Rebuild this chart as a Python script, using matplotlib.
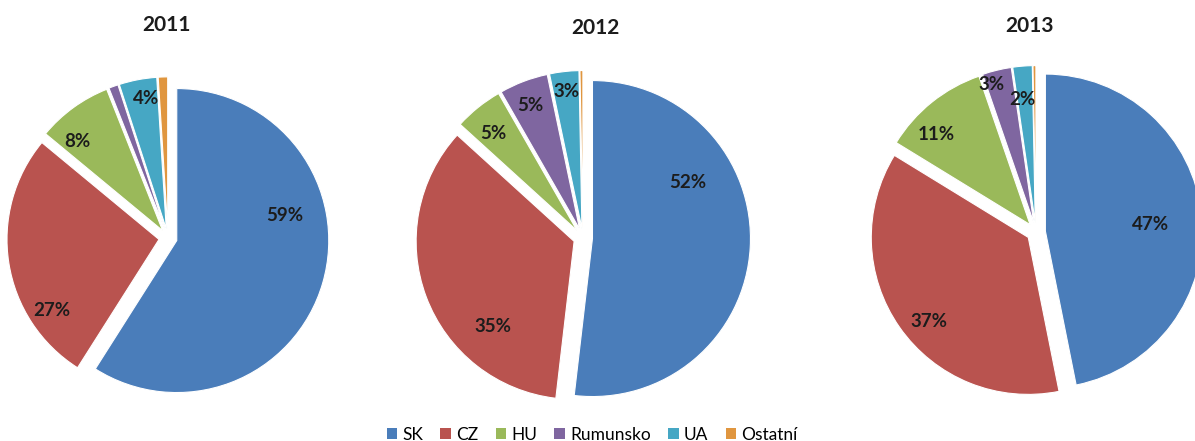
import numpy as np
import matplotlib
matplotlib.use("Agg")
import matplotlib.pyplot as plt
from matplotlib.patches import Patch

# ---- data ----
categories = ["SK", "CZ", "HU", "Rumunsko", "UA", "Ostatní"]
years = ["2011", "2012", "2013"]
values_2011 = [59, 27, 8, 1, 4, 1]
values_2012 = [52, 35, 5, 5, 3, 0.3]
values_2013 = [47, 37, 11, 3, 2, 0.3]
all_values = [values_2011, values_2012, values_2013]

# ---- style ----
colors = ["#4A7DBA", "#B9534F", "#9AB95A", "#7F66A0", "#46A7C4", "#E0963F"]
W, H = 1195, 441
DPI = 100
# pie layout in pixels: center x, center y, radius
pie_layout = [(168, 238, 152), (583, 238, 158), (1036, 232, 157)]
title_pos = [(166, 25), (595, 28), (1030, 26)]
# label placement: angle shift (deg) from slice middle and radial distance (fraction of r)
label_shift = [
    [27, 23, 7, 0, -2, 0],
    [31, 24, 2, 1, 0, 0],
    [-2, 5, 7, 3, 1, 0],
]
label_dist = [
    [0.78, 0.90, 0.87, 0.9, 0.93, 0.9],
    [0.75, 0.80, 0.87, 0.90, 0.93, 0.9],
    [0.73, 0.89, 0.89, 0.98, 0.85, 0.9],
]
explode_frac = 0.06
FONT = ["Lato", "DejaVu Sans"]
plt.rcParams["font.family"] = FONT

fig = plt.figure(figsize=(W / DPI, H / DPI), dpi=DPI)
fig.patch.set_facecolor("white")

half = 1.3
for i, vals in enumerate(all_values):
    cx, cy, r = pie_layout[i]
    hp = half * r
    ax = fig.add_axes([(cx - hp) / W, 1 - (cy + hp) / H, 2 * hp / W, 2 * hp / H])
    wedges, _ = ax.pie(vals, colors=colors, startangle=90, counterclock=False,
                       explode=[explode_frac] * len(vals), radius=1,
                       wedgeprops=dict(edgecolor="white", linewidth=0.8))
    ax.set_xlim(-half, half)
    ax.set_ylim(-half, half)
    ax.axis("off")
    total = sum(vals)
    for j, w in enumerate(wedges):
        pct = vals[j] / total * 100
        if pct < 1.5:
            continue
        mid = (w.theta1 + w.theta2) / 2 + label_shift[i][j]
        d = label_dist[i][j]
        x = d * np.cos(np.radians(mid))
        y = d * np.sin(np.radians(mid))
        ax.text(x, y, f"{pct:.0f}%", ha="center", va="center",
                fontsize=13.5, fontweight="bold", color="#1c1c1c")
    tx, ty = title_pos[i]
    fig.text(tx / W, 1 - ty / H, years[i], ha="center", va="center",
             fontsize=15, fontweight="bold", color="#1c1c1c")

handles = [Patch(facecolor=c, edgecolor="none") for c in colors]
fig.legend(handles, categories, loc="center", bbox_to_anchor=(592 / W, 1 - 435 / H),
           ncol=6, frameon=False, fontsize=12.5, handlelength=0.6, handleheight=0.6,
           handletextpad=0.3, columnspacing=1.0, borderaxespad=0, borderpad=0)

fig.savefig("out.png", dpi=DPI, facecolor="white")
